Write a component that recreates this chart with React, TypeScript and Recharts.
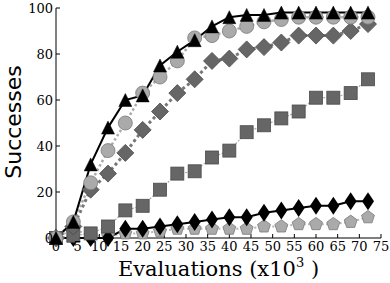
import React from 'react';
import { LineChart, Line, XAxis, YAxis } from 'recharts';

// evaluations (x10^3)
const evaluations = [0, 4, 8, 12, 16, 20, 24, 28, 32, 36, 40, 44, 48, 52, 56, 60, 64, 68, 72];

const triangles = [0, 7, 32, 48, 60, 62, 75, 81, 86, 92, 96, 97, 97, 98, 98, 98, 98, 98, 98];
const circles = [0, 7, 24, 38, 50, 63, 70, 77, 87, 88, 90, 92, 94, 95, 96, 96, 96, 96, 96];
const diamonds = [0, 5, 21, 28, 37, 47, 55, 63, 69, 77, 78, 82, 83, 85, 88, 88, 88, 90, 93];
const squares = [0, 1, 2, 5, 12, 14, 21, 28, 29, 35, 38, 46, 49, 52, 55, 61, 61, 63, 69];
const blackDiamonds = [0, 0, 0, 0, 4, 4, 5, 6, 7, 8, 9, 9, 11, 12, 13, 14, 14, 16, 16];
const pentagons = [0, 4, 1, 1, 2, 2, 3, 4, 4, 4, 4, 4, 5, 5, 6, 6, 6, 7, 9];

const xTicks = [0, 5, 10, 15, 20, 25, 30, 35, 40, 45, 50, 55, 60, 65, 70, 75];
const yTicks = [0, 20, 40, 60, 80, 100];

const data = evaluations.map((x, i) => ({
  x,
  tri: triangles[i],
  circ: circles[i],
  dia: diamonds[i],
  sq: squares[i],
  bdia: blackDiamonds[i],
  pent: pentagons[i],
}));

const SERIF = '"DejaVu Serif", serif';

const empty = (p: any) => <g key={p.key} />;

const triangleDot = (p: any) => {
  const { cx, cy } = p;
  if (cx == null || cy == null) return empty(p);
  const h = 6.5;
  return (
    <polygon key={p.key} points={`${cx},${cy - h} ${cx - h},${cy + h} ${cx + h},${cy + h}`} fill="#000" stroke="#000" strokeWidth={0.5} />
  );
};

const circleDot = (p: any) => {
  const { cx, cy } = p;
  if (cx == null || cy == null) return empty(p);
  return <circle key={p.key} cx={cx} cy={cy} r={7} fill="#aaaaaa" stroke="#7a7a7a" strokeWidth={0.8} />;
};

const diamondDot = (p: any) => {
  const { cx, cy } = p;
  if (cx == null || cy == null) return empty(p);
  const d = 8.5;
  return (
    <polygon key={p.key} points={`${cx},${cy - d} ${cx + d},${cy} ${cx},${cy + d} ${cx - d},${cy}`} fill="#666666" stroke="#4a4a4a" strokeWidth={0.8} />
  );
};

const squareDot = (p: any) => {
  const { cx, cy } = p;
  if (cx == null || cy == null) return empty(p);
  return <rect key={p.key} x={cx - 6.5} y={cy - 6.5} width={13} height={13} fill="#666666" stroke="#4a4a4a" strokeWidth={0.8} />;
};

const thinDiamondDot = (p: any) => {
  const { cx, cy } = p;
  if (cx == null || cy == null) return empty(p);
  const w = 6;
  const h = 9;
  return <polygon key={p.key} points={`${cx},${cy - h} ${cx + w},${cy} ${cx},${cy + h} ${cx - w},${cy}`} fill="#000" />;
};

const pentagonDot = (p: any) => {
  const { cx, cy } = p;
  if (cx == null || cy == null) return empty(p);
  const r = 6.8;
  const pts = [0, 1, 2, 3, 4]
    .map((k) => {
      const a = ((-90 + 72 * k) * Math.PI) / 180;
      return `${cx + r * Math.cos(a)},${cy + r * Math.sin(a)}`;
    })
    .join(' ');
  return <polygon key={p.key} points={pts} fill="#aaaaaa" stroke="#7a7a7a" strokeWidth={0.8} />;
};

const tickStyle = { fill: '#000', fontSize: 13, fontFamily: SERIF, style: { fontFamily: SERIF } };

const XLabel = (props: any) => {
  const vb = props.viewBox || {};
  const cx = (vb.x ?? 56) + (vb.width ?? 325) / 2;
  return (
    <text x={cx} y={276} textAnchor="middle" style={{ fontFamily: SERIF }} fontSize={21} fill="#000">
      Evaluations (x10
      <tspan fontSize={13} dy={-9}>3</tspan>
      <tspan dy={9}> )</tspan>
    </text>
  );
};

const YLabel = () => (
  <text x={0} y={0} transform="translate(21,122) rotate(-90)" textAnchor="middle" style={{ fontFamily: '"DejaVu Sans", sans-serif' }} fontSize={22} fill="#000">
    Successes
  </text>
);

export default function App() {
  return (
    <div style={{ position: 'absolute', left: 0, top: 0, width: 390, height: 283, background: '#fff', fontFamily: SERIF }}>
      <LineChart width={390} height={283} data={data} margin={{ top: 8, right: 9, left: 0, bottom: 0 }} style={{ fontFamily: SERIF }}>
        <XAxis
          dataKey="x"
          type="number"
          domain={[0, 75]}
          ticks={xTicks}
          interval={0}
          height={45}
          stroke="#000"
          tickSize={-4}
          tickMargin={8}
          tick={tickStyle}
          label={<XLabel />}
        />
        <XAxis
          xAxisId="top"
          orientation="top"
          type="number"
          domain={[0, 75]}
          ticks={xTicks}
          height={0}
          stroke="#000"
          tickSize={-4}
          tick={false}
        />
        <YAxis
          type="number"
          domain={[0, 100]}
          ticks={yTicks}
          interval={0}
          width={56}
          stroke="#000"
          tickSize={-4}
          tickMargin={7}
          tick={tickStyle}
          label={<YLabel />}
        />
        <YAxis
          yAxisId="right"
          orientation="right"
          type="number"
          domain={[0, 100]}
          ticks={yTicks}
          width={0}
          stroke="#000"
          tickSize={-4}
          tick={false}
        />
        <Line dataKey="pent" type="linear" stroke="#b5b5b5" strokeWidth={2} strokeDasharray="2 2.5" dot={pentagonDot} isAnimationActive={false} />
        <Line dataKey="bdia" type="linear" stroke="#000" strokeWidth={2} dot={thinDiamondDot} isAnimationActive={false} />
        <Line dataKey="sq" type="linear" stroke="#aaaaaa" strokeWidth={1.2} strokeDasharray="2 1.5" dot={squareDot} isAnimationActive={false} />
        <Line dataKey="dia" type="linear" stroke="#777777" strokeWidth={3} strokeDasharray="3 3" dot={diamondDot} isAnimationActive={false} />
        <Line dataKey="circ" type="linear" stroke="#aaaaaa" strokeWidth={2.5} strokeDasharray="2.5 2.5" dot={circleDot} isAnimationActive={false} />
        <Line dataKey="tri" type="linear" stroke="#000" strokeWidth={2} dot={triangleDot} isAnimationActive={false} />
      </LineChart>
    </div>
  );
}
